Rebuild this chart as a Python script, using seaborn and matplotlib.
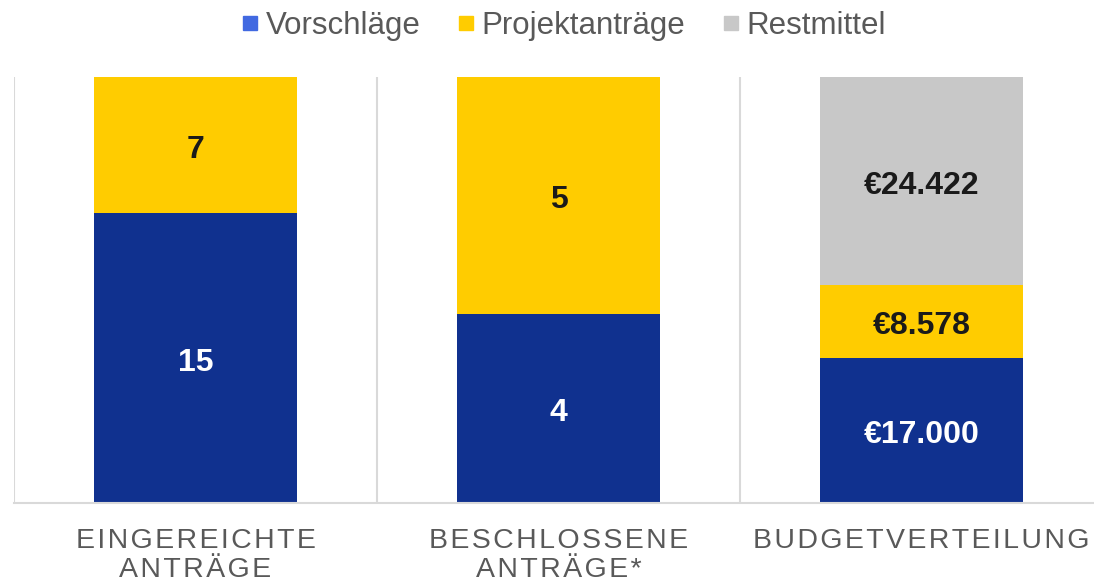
import pandas as pd
import seaborn as sns
import matplotlib.pyplot as plt
from matplotlib.lines import Line2D

categories = ["EINGEREICHTE\nANTRÄGE", "BESCHLOSSENE\nANTRÄGE*", "BUDGETVERTEILUNG"]
series = ["Vorschläge", "Projektanträge", "Restmittel"]
vorschlaege = [15, 4, 17000]
projektantraege = [7, 5, 8578]
restmittel = [0, 0, 24422]
is_euro = [False, False, True]

bar_colors = ["#10318F", "#FFCC00", "#C8C8C8"]
legend_colors = ["#4169E1", "#FFCC00", "#C8C8C8"]
text_gray = "#595959"
grid_gray = "#D9D9D9"

sns.set_style("white")
plt.rcParams["font.family"] = ["Liberation Sans", "DejaVu Sans"]


def spaced(s):
    # imitate the letter spacing of the original axis labels
    return "\n".join("\u200a".join(line) for line in s.split("\n"))


def fmt(v, euro):
    if not euro:
        return str(v)
    return "€" + f"{v:,}".replace(",", ".")


df = pd.DataFrame({"cat": categories, "v": vorschlaege, "p": projektantraege, "r": restmittel})
total = df["v"] + df["p"] + df["r"]
df["c1"] = df["v"] / total
df["c2"] = (df["v"] + df["p"]) / total
df["c3"] = (df["v"] + df["p"] + df["r"]) / total

fig = plt.figure(figsize=(10.94, 5.86), dpi=100)
ax = fig.add_axes([14 / 1094, 83 / 586, 1089 / 1094, 426 / 586])

# stacked as overlapping cumulative layers, tallest first
for col, color in zip(["c3", "c2", "c1"], reversed(bar_colors)):
    sns.barplot(data=df, x="cat", y=col, color=color, saturation=1, width=0.56,
                linewidth=0, ax=ax)

for i in range(len(categories)):
    segs = [(df["v"][i], 0, df["c1"][i]), (df["p"][i], df["c1"][i], df["c2"][i]),
            (df["r"][i], df["c2"][i], df["c3"][i])]
    for k, (val, lo, hi) in enumerate(segs):
        if val <= 0:
            continue
        ax.annotate(fmt(val, is_euro[i]), (i, (lo + hi) / 2), xytext=(0, -3.5),
                    textcoords="offset points", ha="center", va="center",
                    fontsize=23, fontweight="bold", color="white" if k == 0 else "#1A1A1A")

ax.set_xlim(-0.5, 2.5)
ax.set_ylim(0, 1)
ax.set_xlabel("")
ax.set_ylabel("")
ax.set_yticks([])
ax.set_xticks(range(len(categories)))
ax.set_xticklabels([spaced(c) for c in categories], fontsize=20.5, color=text_gray, linespacing=1.15)
ax.tick_params(axis="x", length=0, pad=18)
for s in ["top", "right", "left"]:
    ax.spines[s].set_visible(False)
ax.spines["bottom"].set_color(grid_gray)
ax.spines["bottom"].set_linewidth(1.5)
for x in [-0.5, 0.5, 1.5, 2.5]:
    ax.axvline(x, color=grid_gray, lw=1.5, zorder=0)

handles = [Line2D([], [], marker="s", linestyle="none", markersize=9.5, color=c) for c in legend_colors]
fig.legend(handles, series, loc="upper center", bbox_to_anchor=(0.515, 1.03), ncol=3, frameon=False,
           fontsize=22.5, labelcolor=text_gray, handlelength=0.6, handletextpad=0.2,
           columnspacing=1.15)

fig.savefig("out.png", dpi=100)
